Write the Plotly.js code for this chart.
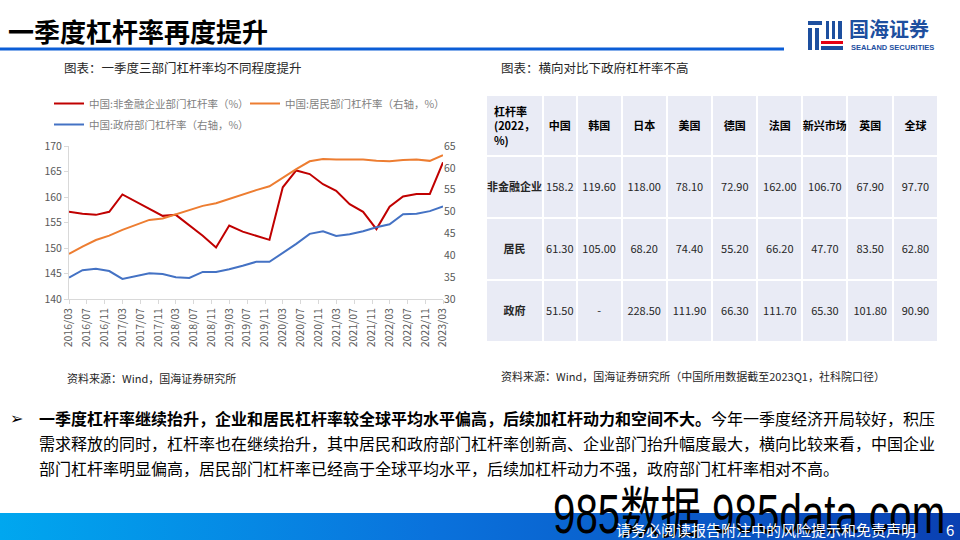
<!DOCTYPE html>
<html>
<head>
<meta charset="utf-8">
<script src="https://cdn.plot.ly/plotly-3.0.1.min.js"></script>
<style>
html,body{margin:0;padding:0;background:#fff;}
#wrap{position:relative;width:960px;height:540px;overflow:hidden;background:#fff;}
#footer{position:absolute;left:0;top:513px;width:960px;height:27px;z-index:1;
  background:linear-gradient(90deg,#00a7ef 0%,#0a72dc 45%,#0a40b2 100%);}
#wm{position:absolute;left:553px;top:486px;z-index:2;font-family:"Liberation Sans",Arial,"Noto Sans CJK SC",sans-serif;
  font-size:56px;line-height:1;color:#000;white-space:nowrap;transform:scaleX(0.72);transform-origin:left top;}
#plot{position:absolute;left:0;top:0;width:960px;height:540px;z-index:3;}
</style>
</head>
<body>
<div id="wrap">
  <div id="footer"></div>
  <div id="wm">985数据 985data.com</div>
  <div id="plot"></div>
</div>
<script>
// ---------- data ----------
const quarters = ['2016-03','2016-06','2016-09','2016-12','2017-03','2017-06','2017-09','2017-12',
  '2018-03','2018-06','2018-09','2018-12','2019-03','2019-06','2019-09','2019-12',
  '2020-03','2020-06','2020-09','2020-12','2021-03','2021-06','2021-09','2021-12',
  '2022-03','2022-06','2022-09','2022-12','2023-03'];
const nonFinCorp = [157.1,156.7,156.5,157.1,160.5,159.1,157.6,156.3,156.5,154.5,152.4,150.1,154.4,153.2,152.4,151.6,
  161.9,165.2,164.5,162.5,161.2,158.6,157.1,153.7,158.1,160.1,160.6,160.6,166.8];
const household = [40.3,42.0,43.5,44.5,45.8,46.9,48.1,48.4,49.4,50.3,51.3,51.9,52.9,54.0,54.9,55.8,
  57.8,59.7,61.5,62.0,61.9,61.9,61.9,61.6,61.5,61.8,61.9,61.6,62.9];
const government = [34.9,36.6,36.9,36.4,34.6,35.2,35.9,35.7,35.0,34.8,36.2,36.2,36.8,37.6,38.5,38.5,
  40.5,42.6,44.9,45.5,44.4,44.8,45.5,46.4,47.1,49.4,49.5,50.1,51.2];
const seriesNames = ['中国:非金融企业部门杠杆率（%）','中国:居民部门杠杆率（右轴，%）','中国:政府部门杠杆率（右轴，%）'];

const tableCorner = '杠杆率<br>(2022，<br>%)';
const countries = ['中国','韩国','日本','美国','德国','法国','新兴市场','英国','全球'];
const sectors = ['非金融企业','居民','政府'];
const nonFinByCountry = ['158.2','119.60','118.00','78.10','72.90','162.00','106.70','67.90','97.70'];
const householdByCountry = ['61.30','105.00','68.20','74.40','55.20','66.20','47.70','83.50','62.80'];
const govByCountry = ['51.50','-','228.50','111.90','66.30','111.70','65.30','101.80','90.90'];

// ---------- helpers ----------
const W = 960, H = 540;
const X = p => p / W, Y = p => 1 - p / H;
const FONT = '"Microsoft YaHei","Noto Sans CJK SC","Noto Sans",sans-serif';
const PAD = '\u00a0<br>';   // blank first line to centre text vertically in the cell

// ---------- traces ----------
const lineTraces = [
  {type:'scatter',mode:'lines',x:quarters,y:nonFinCorp,name:seriesNames[0],yaxis:'y',
   line:{color:'#c00000',width:2},legend:'legend'},
  {type:'scatter',mode:'lines',x:quarters,y:household,name:seriesNames[1],yaxis:'y2',
   line:{color:'#ed7d31',width:2},legend:'legend'},
  {type:'scatter',mode:'lines',x:quarters,y:government,name:seriesNames[2],yaxis:'y2',
   line:{color:'#4472c4',width:2},legend:'legend2'}
];

const headerVals = [ '<b>' + tableCorner + '</b>' ].concat(countries.map(c => PAD + '<b>' + c + '</b>'));
const cellCols = [ sectors.map(s => PAD + '<b>' + s + '</b>') ].concat(
  countries.map((c, i) => [nonFinByCountry[i], householdByCountry[i], govByCountry[i]].map(v => PAD + v)));

const tableTrace = {
  type:'table',
  domain:{x:[X(486),X(938)], y:[Y(342),Y(95)]},
  columnwidth:[57,33.5,45,45,45.5,45,45,45,45.5,45],
  header:{values:headerVals, align:'center', height:60,
    fill:{color:'#e9ebf5'}, line:{color:'#ffffff',width:2},
    font:{family:FONT,size:11,color:'#000000'}},
  cells:{values:cellCols, align:'center', height:62,
    fill:{color:'#e9ebf5'}, line:{color:'#ffffff',width:2},
    font:{family:FONT,size:11,color:'#262626'}}
};

// ---------- layout ----------
const tickFont = {family:FONT,size:10.5,color:'#595959'};
const annotations = [
  {text:'<b>一季度杠杆率再度提升</b>',x:X(6),y:Y(30),font:{size:26,color:'#000'}},
  {text:'图表：一季度三部门杠杆率均不同程度提升',x:X(62),y:Y(68),font:{size:12.5,color:'#262626'}},
  {text:'图表：横向对比下政府杠杆率不高',x:X(499),y:Y(68),font:{size:12.5,color:'#262626'}},
  {text:'资料来源：Wind，国海证券研究所',x:X(65),y:Y(378),font:{size:11,color:'#262626'}},
  {text:'资料来源：Wind，国海证券研究所（中国所用数据截至2023Q1，社科院口径）',x:X(499),y:Y(376),font:{size:11,color:'#262626'}},
  {text:'<b>➢</b>',x:X(8),y:Y(418),font:{size:16,color:'#000',family:'"DejaVu Sans",sans-serif'}},
  {text:'<b>一季度杠杆率继续抬升，企业和居民杠杆率较全球平均水平偏高，后续加杠杆动力和空间不大。</b>今年一季度经济开局较好，积压',x:X(37),y:Y(418),font:{size:16,color:'#000'}},
  {text:'需求释放的同时，杠杆率也在继续抬升，其中居民和政府部门杠杆率创新高、企业部门抬升幅度最大，横向比较来看，中国企业',x:X(37),y:Y(443),font:{size:16,color:'#000'}},
  {text:'部门杠杆率明显偏高，居民部门杠杆率已经高于全球平均水平，后续加杠杆动力不强，政府部门杠杆率相对不高。',x:X(37),y:Y(468),font:{size:16,color:'#000'}},
  {text:'请务必阅读报告附注中的风险提示和免责声明',x:X(614),y:Y(529),font:{size:15,color:'#ffffff'}},
  {text:'6',x:X(944),y:Y(529),font:{size:15,color:'#ffffff'}},
  {text:'<b>国海证券</b>',x:X(847),y:Y(29),font:{size:20,color:'#1d4f9f'}},
  {text:'<b>SEALAND SECURITIES</b>',x:X(849),y:Y(47.5),font:{size:7.5,color:'#1d4f9f',family:'"Liberation Sans",Arial,sans-serif'}}
].map(a => Object.assign({xref:'paper',yref:'paper',xanchor:'left',yanchor:'middle',showarrow:false},
  a, {font:Object.assign({family:FONT}, a.font)}));

const rect = (x0,y0,x1,y1,color) => ({type:'rect',xref:'paper',yref:'paper',x0:X(x0),x1:X(x1),y0:Y(y1),y1:Y(y0),
  fillcolor:color,line:{width:0},layer:'above'});
const shapes = [
  {type:'line',xref:'paper',yref:'paper',x0:X(0),x1:X(784),y0:Y(49),y1:Y(49),line:{color:'#0b5dd6',width:3}},
  // logo mark (approximation)
  rect(808,21,822,25,'#1d4f9f'),
  rect(808,28,812,50,'#1d4f9f'),
  rect(815,28,819,50,'#1d4f9f'),
  rect(826,21,829,39,'#1d4f9f'),
  rect(832,21,835,39,'#1d4f9f'),
  rect(838,21,842,39,'#1d4f9f'),
  rect(821,41,843,44,'#e60012'),
  rect(821,46,843,50,'#1d4f9f')
];

const legendBase = {orientation:'h',xanchor:'left',yanchor:'top',bgcolor:'rgba(0,0,0,0)',
  font:{family:FONT,size:10.5,color:'#7f7f7f'},itemwidth:30,tracegroupgap:0};

const layout = {
  width:W,height:H,autosize:false,
  margin:{l:0,r:0,t:0,b:0,pad:0},
  paper_bgcolor:'rgba(0,0,0,0)',plot_bgcolor:'rgba(0,0,0,0)',
  font:{family:FONT},
  showlegend:true,
  legend:Object.assign({x:X(49),y:Y(89),entrywidth:151},legendBase),
  legend2:Object.assign({x:X(49),y:Y(110)},legendBase),
  xaxis:{domain:[X(69),X(443)],anchor:'y',type:'date',range:['2016-03-01','2023-03-01'],
    tick0:'2016-03-01',dtick:'M4',tickformat:'%Y/%m',tickangle:-90,
    showline:true,linecolor:'#d9d9d9',linewidth:1,ticks:'outside',ticklen:4,tickcolor:'#d9d9d9',
    showgrid:false,zeroline:false,tickfont:tickFont},
  yaxis:{domain:[Y(299),Y(146)],anchor:'x',range:[140,170],dtick:5,
    showline:true,linecolor:'#d9d9d9',linewidth:1,ticks:'outside',ticklen:4,tickcolor:'#d9d9d9',
    showgrid:false,zeroline:false,tickfont:tickFont},
  yaxis2:{overlaying:'y',side:'right',anchor:'x',range:[30,65],dtick:5,
    showline:false,ticks:'',showgrid:false,zeroline:false,tickfont:tickFont},
  annotations:annotations,
  shapes:shapes
};

Plotly.newPlot('plot', lineTraces.concat([tableTrace]), layout, {staticPlot:true,displayModeBar:false});
</script>
</body>
</html>
